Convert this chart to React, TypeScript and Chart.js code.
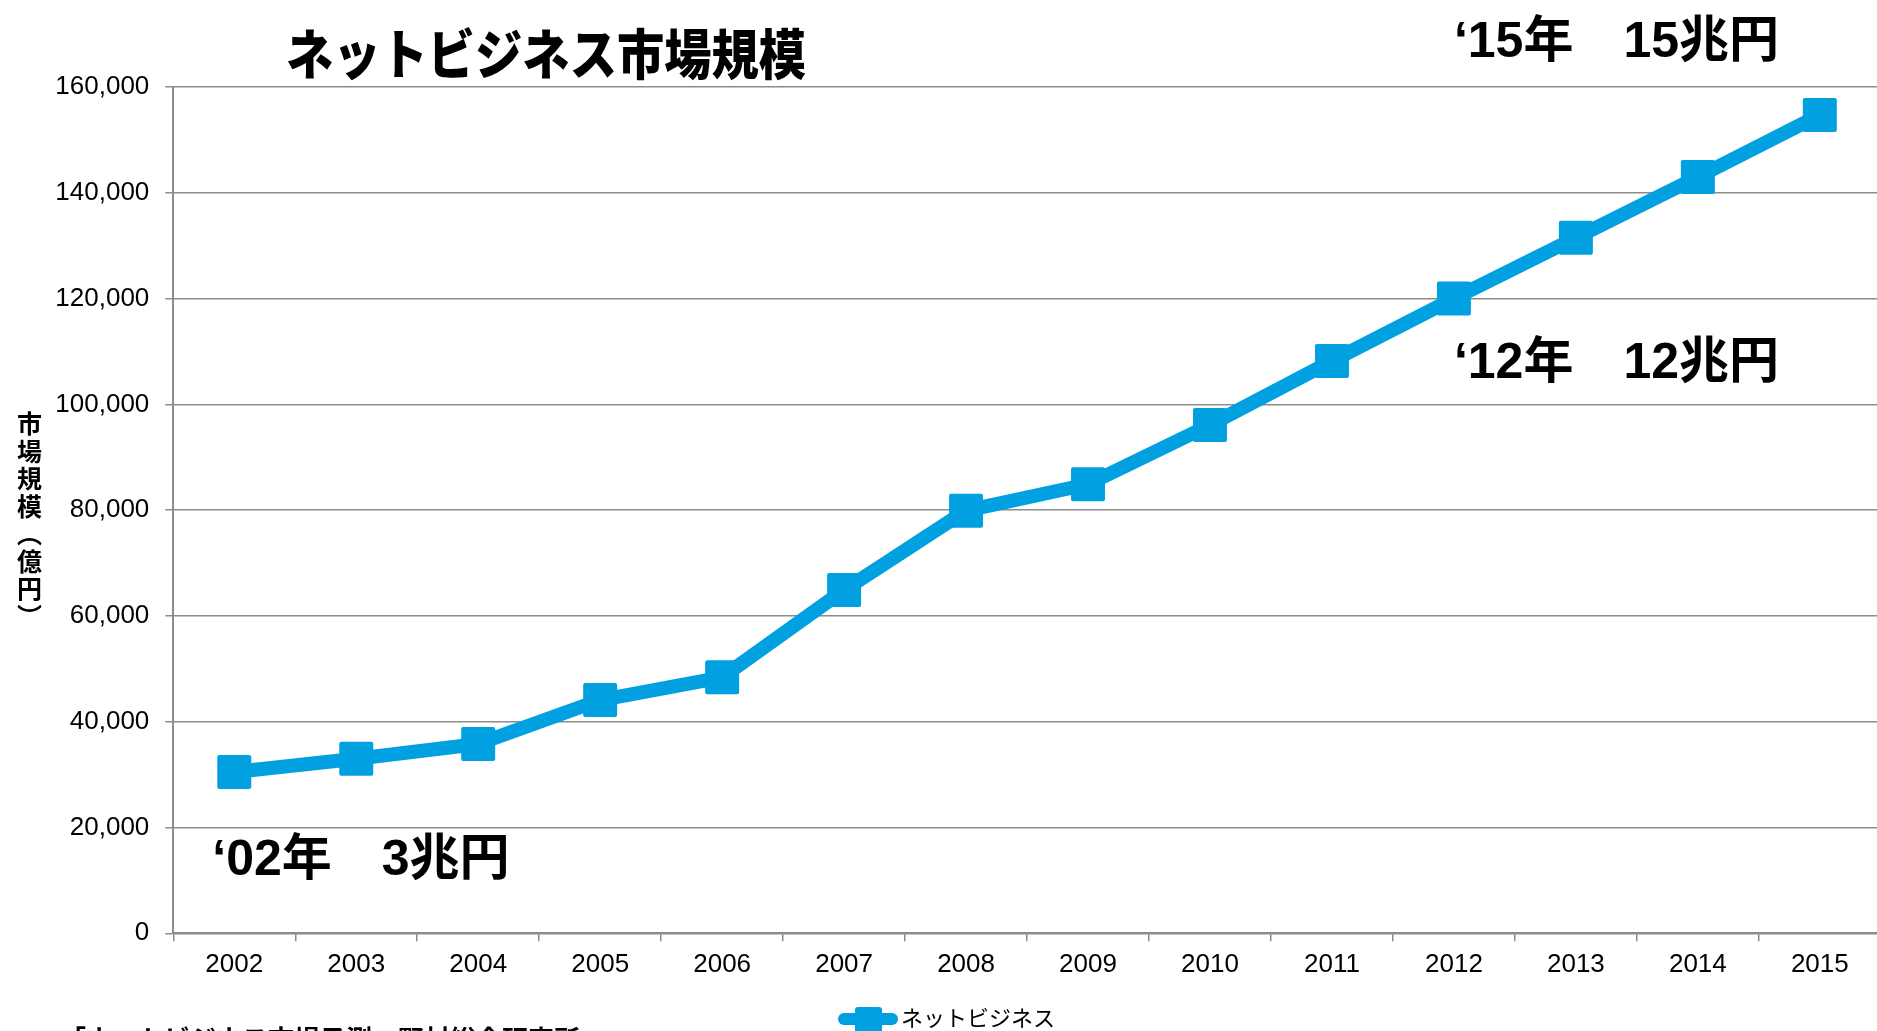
import React, { useEffect, useRef } from "react";
import { Chart, registerables } from "chart.js";

Chart.register(...registerables);

// ---- data ----
const years = ["2002", "2003", "2004", "2005", "2006", "2007", "2008", "2009", "2010", "2011", "2012", "2013", "2014", "2015"];
const marketSize = [30500, 33000, 35800, 44100, 48400, 64900, 79900, 84900, 96100, 108200, 120000, 131500, 143000, 154700];
const yTickValues = [0, 20000, 40000, 60000, 80000, 100000, 120000, 140000, 160000];
const seriesName = "ネットビジネス";
const chartTitle = "ネットビジネス市場規模";
const yAxisTitleChars = ["市", "場", "規", "模", "︵", "億", "円", "︶"];
const annotationTexts = ["‘02年　3兆円", "‘12年　12兆円", "‘15年　15兆円"];
const sourceText = "「ネットビジネス市場予測」野村総合研究所";

// ---- styles ----
const W = 1906;
const H = 1060;
const BLUE = "#00A0E1";
const GRID = "#8c8c8c";
const SANS = "'Liberation Sans', Arial, sans-serif";
const CJK = "'Noto Sans CJK JP', 'Noto Sans CJK SC', sans-serif";

const overlay = {
  id: "overlay",
  beforeDatasetDraw(chart: any) {
    chart.ctx.lineJoin = "round";
  },
  afterDatasetDraw(chart: any) {
    chart.ctx.lineJoin = "miter";
  },
  afterDraw(chart: any) {
    const ctx = chart.ctx as CanvasRenderingContext2D;
    const xs = chart.scales.x;
    const ys = chart.scales.y;
    ctx.save();
    ctx.fillStyle = "#000";

    // title
    ctx.font = `900 54px ${CJK}`;
    const tw = ctx.measureText(chartTitle).width;
    ctx.save();
    ctx.translate(286, 54);
    ctx.scale(520 / tw, 1);
    ctx.textAlign = "left";
    ctx.textBaseline = "middle";
    ctx.fillText(chartTitle, 0, 0);
    ctx.restore();

    // y-axis title (vertical)
    ctx.font = `bold 25px ${CJK}`;
    ctx.textAlign = "center";
    ctx.textBaseline = "middle";
    yAxisTitleChars.forEach((ch, i) => {
      ctx.fillText(ch, 29.5, 423.5 + i * 27.5);
    });

    // annotations
    ctx.font = `bold 50px 'Liberation Sans', Arial, ${CJK}`;
    ctx.textAlign = "left";
    ctx.textBaseline = "alphabetic";
    const annPos = [
      { x: xs.getPixelForValue(0) - 22, y: ys.getPixelForValue(11000) },
      { x: xs.getPixelForValue(10), y: ys.getPixelForValue(105000) },
      { x: xs.getPixelForValue(10), y: ys.getPixelForValue(165600) },
    ];
    annotationTexts.forEach((t, i) => {
      ctx.fillText(t, annPos[i].x, annPos[i].y);
    });

    // legend
    ctx.strokeStyle = BLUE;
    ctx.fillStyle = BLUE;
    ctx.lineWidth = 12;
    ctx.lineCap = "round";
    ctx.beginPath();
    ctx.moveTo(844, 1019);
    ctx.lineTo(892, 1019);
    ctx.stroke();
    ctx.beginPath();
    (ctx as any).roundRect(855, 1007, 27, 27, 3);
    ctx.fill();
    ctx.fillStyle = "#000";
    ctx.font = `22px ${CJK}`;
    ctx.textAlign = "left";
    ctx.textBaseline = "middle";
    ctx.fillText(seriesName, 901, 1018);

    // source
    ctx.font = `bold 26px ${CJK}`;
    ctx.textBaseline = "top";
    ctx.fillText(sourceText, 60, 1026);

    ctx.restore();
  },
};

export default function App() {
  const ref = useRef<HTMLCanvasElement>(null);

  useEffect(() => {
    document.documentElement.style.overflow = "hidden";
    document.body.style.margin = "0";
    document.body.style.overflow = "hidden";
    document.body.style.background = "#fff";

    Chart.defaults.font.family = SANS;
    const canvas = ref.current!;
    const chart = new Chart(canvas, {
      type: "line",
      data: {
        labels: years,
        datasets: [
          {
            label: seriesName,
            data: marketSize,
            borderColor: BLUE,
            backgroundColor: BLUE,
            borderWidth: 14,
            borderJoinStyle: "round",
            tension: 0,
            pointStyle: "rect",
            pointRadius: 21.2,
            pointHoverRadius: 21.2,
            pointBorderWidth: 4,
            pointBorderColor: BLUE,
            pointBackgroundColor: BLUE,
            clip: false as any,
          } as any,
        ],
      },
      options: {
        responsive: false,
        animation: false,
        devicePixelRatio: 1,
        events: [],
        layout: { padding: { top: 87, left: 0, right: 0, bottom: 0 } },
        plugins: {
          legend: { display: false },
          title: { display: false },
          tooltip: { enabled: false },
        },
        scales: {
          x: {
            type: "category",
            offset: true,
            grid: {
              display: true,
              drawOnChartArea: false,
              drawTicks: true,
              tickLength: 8,
              offset: true,
              color: GRID,
              lineWidth: 1.5,
            },
            border: { display: true, color: GRID, width: 2 },
            ticks: {
              color: "#000",
              font: { size: 26 },
              padding: 8,
              maxRotation: 0,
              autoSkip: false,
            },
            afterFit: (s: any) => {
              s.height = H - 933.3;
            },
          },
          y: {
            min: yTickValues[0],
            max: yTickValues[yTickValues.length - 1],
            afterBuildTicks: (s: any) => {
              s.ticks = yTickValues.map((v) => ({ value: v }));
            },
            ticks: {
              color: "#000",
              font: { size: 26 },
              padding: 16,
              callback: (v: any) => Number(v).toLocaleString("en-US"),
            },
            grid: { color: GRID, lineWidth: 1.5, tickLength: 8 },
            border: { display: true, color: GRID, width: 2 },
            afterFit: (s: any) => {
              s.width = 173.3;
            },
          },
        },
      },
      plugins: [overlay],
    });
    return () => chart.destroy();
  }, []);

  return (
    <div style={{ width: W, height: H }}>
      <canvas ref={ref} width={W} height={H} style={{ display: "block", width: W, height: H }} />
    </div>
  );
}
